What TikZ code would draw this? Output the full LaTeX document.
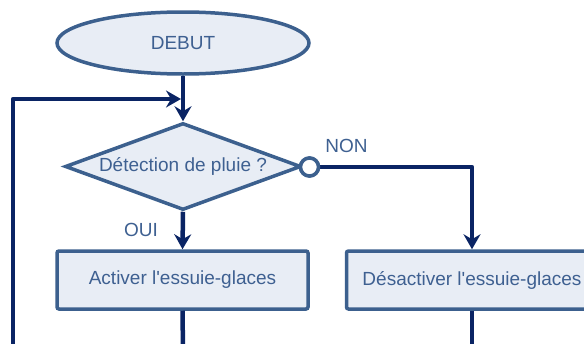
\documentclass[tikz,border=0pt]{standalone}
\usepackage{fontspec}
\setmainfont{Liberation Sans}
\usetikzlibrary{shapes.geometric,arrows.meta}
\definecolor{edgeblue}{RGB}{60,96,142}
\definecolor{fillblue}{RGB}{232,237,245}
\definecolor{navy}{RGB}{10,36,100}
\definecolor{txtblue}{RGB}{62,96,145}
\tikzset{
  shapebase/.style={draw=edgeblue, fill=fillblue, line width=3.5pt, text=txtblue,
    inner sep=0pt, font=\fontsize{19}{22}\selectfont},
  startstop/.style={shapebase, ellipse, minimum width=252pt, minimum height=62pt},
  decision/.style={shapebase, diamond, shape aspect=2.7, minimum width=236pt, minimum height=87pt},
  process/.style={shapebase, rectangle, rounded corners=2pt, minimum width=251pt, minimum height=58pt},
  joint/.style={circle, draw=edgeblue, fill=white, line width=3.5pt, minimum size=18pt, inner sep=0pt},
  answer/.style={text=txtblue, font=\fontsize{19}{22}\selectfont, inner sep=0pt},
  flow/.style={draw=navy, line width=4.5pt, line join=round,
    -{Stealth[length=15pt, width=17pt, inset=5pt]}},
  wire/.style={draw=navy, line width=4.5pt, line join=round}
}
\begin{document}
\begin{tikzpicture}[x=1pt, y=-1pt]
  \clip (0,0) rectangle (584,343);
  \useasboundingbox (0,0) rectangle (584,343);

  % shapes
  \node[startstop] (debut) at (183,43) {DEBUT};
  \node[decision] (test) at (183,166.5) {Détection de pluie ?};
  \node[joint] (non) at (309.5,167) {};
  \node[process] (act) at (182.5,280) {Activer l\textquotesingle essuie-glaces};
  \node[process] (des) at (472,280) {Désactiver l\textquotesingle essuie-glaces};

  % branch labels
  \node[answer] (lnon) at (346.5,146) {NON};
  \node[answer] (loui) at (141,230) {OUI};

  % free ends of the connectors
  \coordinate (loopbot) at (13,350);
  \coordinate (loopin) at (181,99);
  \coordinate (actout) at (183,350);
  \coordinate (desout) at (472,350);

  % connectors
  \draw[flow] (debut.south) -- (test.north);
  \draw[flow] (loopbot) |- (loopin);
  \draw[flow] (test.south) -- (act.north);
  \draw[flow] (non.east) -| (des.north);
  \draw[wire] (act.south) -- (actout);
  \draw[wire] (des.south) -- (desout);

  % circle on top of the line start
  \node[joint] at (non) {};
\end{tikzpicture}
\end{document}
